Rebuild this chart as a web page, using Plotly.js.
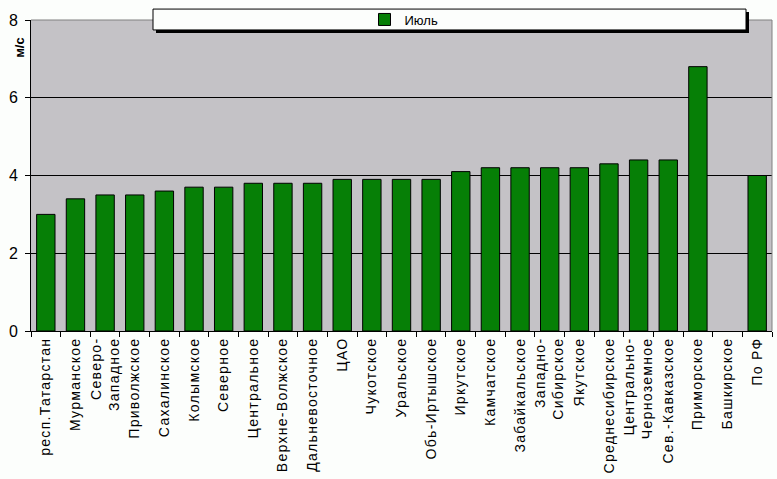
<!DOCTYPE html>
<html>
<head>
<meta charset="utf-8">
<script src="https://cdn.plot.ly/plotly-3.0.1.min.js"></script>
<style>
html,body{margin:0;padding:0;background:#fff;}
#chart{width:777px;height:479px;}
#chart .xtick text{letter-spacing:1.3px;}
</style>
</head>
<body>
<div id="chart"></div>
<script>
const categories = [
  "респ.Татарстан", "Мурманское", "Северо-<br>Западное", "Приволжское", "Сахалинское",
  "Колымское", "Северное", "Центральное", "Верхне-Волжское", "Дальневосточное",
  "ЦАО", "Чукотское", "Уральское", "Обь-Иртышское", "Иркутское",
  "Камчатское", "Забайкальское", "Западно-<br>Сибирское", "Якутское", "Среднесибирское",
  "Центрально-<br>Черноземное", "Сев.-Кавказское", "Приморское", "Башкирское", "По РФ"
];
const july = [
  3.0, 3.4, 3.5, 3.5, 3.6,
  3.7, 3.7, 3.8, 3.8, 3.8,
  3.9, 3.9, 3.9, 3.9, 4.1,
  4.2, 4.2, 4.2, 4.2, 4.3,
  4.4, 4.4, 6.8, null, 4.0
];
const yTicks = [0, 2, 4, 6, 8];
const seriesName = "Июль";
const yUnit = "м/с";

const L = 31, R = 772, T = 18, B = 331, W = 777, H = 479;
const px = x => (x - L) / (R - L);
const py = y => (B - y) / (B - T);

const trace = {
  type: "bar",
  x: categories,
  y: july,
  name: seriesName,
  showlegend: true,
  marker: { color: "#067F06", line: { color: "#000", width: 1 } }
};

const layout = {
  width: W, height: H,
  margin: { l: L, r: W - R, t: T, b: H - B, pad: 0 },
  paper_bgcolor: "#FCFEFC",
  plot_bgcolor: "#C4C2C6",
  font: { family: "Liberation Sans, Arial, sans-serif", color: "#000", size: 13 },
  bargap: 0.38,
  showlegend: true,
  legend: {
    x: px(404), y: py(17.5), xanchor: "center", yanchor: "middle",
    orientation: "h", bgcolor: "rgba(0,0,0,0)", borderwidth: 0,
    font: { size: 13, family: "Liberation Sans, Arial, sans-serif" },
    itemwidth: 30
  },
  xaxis: {
    type: "category",
    tickangle: -90,
    tickson: "boundaries",
    ticks: "outside", ticklen: 5, tickcolor: "#000",
    showline: true, linecolor: "#000", linewidth: 1,
    showgrid: false,
    tickfont: { size: 14 },
    automargin: false
  },
  yaxis: {
    range: [0, 8],
    tickvals: yTicks,
    ticks: "outside", ticklen: 5, tickcolor: "#000",
    showline: true, linecolor: "#000", linewidth: 1,
    showgrid: true, gridcolor: "#000", gridwidth: 1,
    zeroline: false,
    tickfont: { size: 16 },
    ticklabelstandoff: 4,
    automargin: false
  },
  shapes: [
    { type: "line", xref: "paper", yref: "paper", x0: 0, x1: 1, y0: 1, y1: 1, line: { color: "#808080", width: 1 }, layer: "above" },
    { type: "line", xref: "paper", yref: "paper", x0: 1, x1: 1, y0: 0, y1: 1, line: { color: "#808080", width: 1 }, layer: "above" },
    { type: "rect", xref: "paper", yref: "paper", x0: px(156), x1: px(749), y0: py(10), y1: py(31), fillcolor: "#000", line: { width: 0 }, layer: "above" },
    { type: "rect", xref: "paper", yref: "paper", x0: px(153), x1: px(746), y0: py(7), y1: py(28), fillcolor: "#FCFEFC", line: { color: "#000", width: 1 }, layer: "above" }
  ],
  annotations: [
    { text: "<b>" + yUnit + "</b>", xref: "paper", yref: "paper", x: px(20), y: py(46), showarrow: false, textangle: -90, font: { size: 13 }, xanchor: "center", yanchor: "middle" }
  ]
};

Plotly.newPlot("chart", [trace], layout, { displayModeBar: false, staticPlot: true });
</script>
</body>
</html>
